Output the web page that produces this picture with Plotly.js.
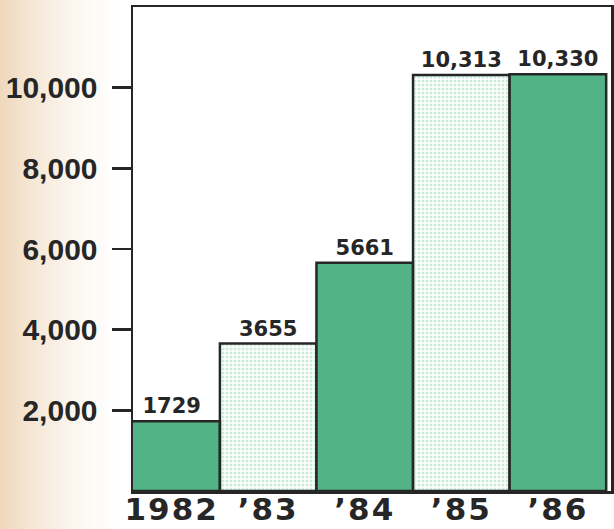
<!DOCTYPE html>
<html>
<head>
<meta charset="utf-8">
<script src="https://cdn.plot.ly/plotly-3.0.1.min.js"></script>
<style>
  html, body { margin: 0; padding: 0; }
  body {
    width: 614px; height: 529px; overflow: hidden;
    background: linear-gradient(to right, #efd8bd 0px, #f5e6d3 30px, #fbf5ee 70px, #ffffff 115px);
  }
  #chart { width: 614px; height: 529px; }
  .textpoint text { letter-spacing: 3px; }
  .xtick text { letter-spacing: 2px; }
</style>
</head>
<body>
<div id="chart"></div>
<script>
// Annual totals, 1982–1986
const years = ['1982', '’83', '’84', '’85', '’86'];
const totals = [1729, 3655, 5661, 10313, 10330];
const valueLabels = ['1729', '3655', '5661', '10,313', '10,330'];
const yTickVals = [2000, 4000, 6000, 8000, 10000];
const yTickText = ['2,000', '4,000', '6,000', '8,000', '10,000'];

// alternating solid / dotted fills
const solidGreen = '#52b386';
const mintBg = '#cbecda';
const dotGreen = '#6fc197';
const fills = [solidGreen, mintBg, solidGreen, mintBg, solidGreen];
const patternShapes = ['', '.', '', '.', ''];

const ink = '#262626';

const trace = {
  type: 'bar',
  x: years.map((_, i) => i),
  y: totals,
  text: valueLabels,
  textposition: 'outside',
  cliponaxis: false,
  textfont: { family: 'DejaVu Sans', size: 21, weight: 'bold', color: ink },
  marker: {
    color: fills,
    line: { color: ink, width: 2.5 },
    pattern: {
      shape: patternShapes,
      fgcolor: dotGreen,
      bgcolor: mintBg,
      size: 4,
      solidity: 0.45
    }
  },
  width: 1,
  hoverinfo: 'skip'
};

const layout = {
  width: 614,
  height: 529,
  margin: { l: 133, r: 3, t: 7, b: 38 },
  paper_bgcolor: 'rgba(0,0,0,0)',
  plot_bgcolor: '#ffffff',
  showlegend: false,
  bargap: 0,
  xaxis: {
    type: 'linear',
    range: [-0.4, 4.55],
    tickvals: years.map((_, i) => i),
    ticktext: years,
    ticks: '',
    showgrid: false,
    zeroline: false,
    showline: true,
    mirror: true,
    linecolor: ink,
    linewidth: 2.5,
    tickfont: { family: 'DejaVu Sans', size: 31, weight: 'bold', color: ink },
    ticklabelstandoff: -11
  },
  yaxis: {
    range: [0, 12000],
    tickvals: yTickVals,
    ticktext: yTickText,
    ticks: 'outside',
    ticklen: 19,
    tickwidth: 2.5,
    tickcolor: ink,
    ticklabelstandoff: 8,
    showgrid: false,
    zeroline: false,
    showline: true,
    mirror: true,
    linecolor: ink,
    linewidth: 2.5,
    tickfont: { family: 'Liberation Sans', size: 30, weight: 'bold', color: ink }
  }
};

Plotly.newPlot('chart', [trace], layout, { displayModeBar: false, staticPlot: true });
</script>
</body>
</html>
